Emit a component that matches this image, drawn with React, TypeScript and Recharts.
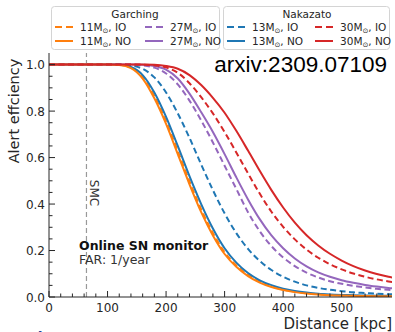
import { LineChart, Line, XAxis, YAxis, ReferenceLine } from 'recharts';

// distance grid [kpc]
const distance = [0, 20, 40, 60, 80, 100, 120, 140, 160, 180, 200, 220, 240, 260, 280, 300, 320, 340, 360, 380, 400, 420, 440, 460, 480, 500, 520, 540, 560, 580, 600];

// Garching
const g11IO = [1, 1, 1, 1, 1, 1, 0.999, 0.988, 0.946, 0.865, 0.757, 0.628, 0.498, 0.377, 0.275, 0.193, 0.136, 0.095, 0.066, 0.046, 0.032, 0.023, 0.016, 0.012, 0.009, 0.007, 0.0055, 0.0045, 0.004, 0.0035, 0.003];
const g11NO = [1, 1, 1, 1, 1, 1, 0.998, 0.985, 0.94, 0.855, 0.745, 0.615, 0.485, 0.365, 0.265, 0.185, 0.13, 0.09, 0.062, 0.043, 0.03, 0.021, 0.015, 0.011, 0.008, 0.006, 0.005, 0.004, 0.0035, 0.003, 0.0025];
const g27IO = [1, 1, 1, 1, 1, 1, 1, 1, 0.997, 0.987, 0.962, 0.915, 0.845, 0.76, 0.665, 0.565, 0.465, 0.365, 0.283, 0.219, 0.17, 0.133, 0.105, 0.084, 0.068, 0.057, 0.048, 0.041, 0.035, 0.031, 0.027];
const g27NO = [1, 1, 1, 1, 1, 1, 1, 1, 0.999, 0.994, 0.978, 0.94, 0.875, 0.795, 0.71, 0.615, 0.515, 0.42, 0.335, 0.265, 0.21, 0.166, 0.132, 0.106, 0.087, 0.072, 0.061, 0.052, 0.045, 0.039, 0.034];

// Nakazato
const n13IO = [1, 1, 1, 1, 1, 1, 1, 0.996, 0.982, 0.945, 0.88, 0.79, 0.685, 0.57, 0.46, 0.36, 0.275, 0.207, 0.155, 0.116, 0.087, 0.066, 0.05, 0.039, 0.031, 0.025, 0.02, 0.017, 0.014, 0.012, 0.011];
const n13NO = [1, 1, 1, 1, 1, 1, 0.999, 0.99, 0.955, 0.88, 0.775, 0.65, 0.52, 0.4, 0.295, 0.21, 0.148, 0.103, 0.072, 0.051, 0.036, 0.026, 0.019, 0.014, 0.011, 0.009, 0.0075, 0.0065, 0.0055, 0.005, 0.0045];
const n30IO = [1, 1, 1, 1, 1, 1, 1, 1, 1, 0.997, 0.988, 0.965, 0.92, 0.86, 0.79, 0.71, 0.622, 0.532, 0.445, 0.367, 0.302, 0.248, 0.204, 0.169, 0.141, 0.119, 0.101, 0.087, 0.076, 0.067, 0.06];
const n30NO = [1, 1, 1, 1, 1, 1, 1, 1, 1, 0.999, 0.994, 0.982, 0.955, 0.912, 0.857, 0.793, 0.715, 0.63, 0.543, 0.46, 0.385, 0.32, 0.266, 0.222, 0.186, 0.157, 0.133, 0.114, 0.099, 0.087, 0.077];

const xTicks = [0, 20, 40, 60, 80, 100, 120, 140, 160, 180, 200, 220, 240, 260, 280, 300, 320, 340, 360, 380, 400, 420, 440, 460, 480, 500, 520, 540, 560, 580];
const yTicks = [0, 0.05, 0.1, 0.15, 0.2, 0.25, 0.3, 0.35, 0.4, 0.45, 0.5, 0.55, 0.6, 0.65, 0.7, 0.75, 0.8, 0.85, 0.9, 0.95, 1.0];
const SMC = 64;

const data = distance.map((d, i) => ({
  d,
  g11IO: g11IO[i],
  g11NO: g11NO[i],
  g27IO: g27IO[i],
  g27NO: g27NO[i],
  n13IO: n13IO[i],
  n13NO: n13NO[i],
  n30IO: n30IO[i],
  n30NO: n30NO[i],
}));

const ORANGE = '#ff7f0e';
const PURPLE = '#9467bd';
const BLUE = '#1f77b4';
const RED = '#d62728';
const DASH = '6 3.5';
const FONT = '"DejaVu Sans", sans-serif';
const INK = '#262626';

const XTick = (props: any) => {
  const { x, y, payload } = props;
  const major = payload.value % 100 === 0;
  return (
    <g>
      <line x1={x} x2={x} y1={y} y2={y - (major ? 6 : 3.5)} stroke={INK} strokeWidth={1} />
      {major && (
        <text x={x} y={y + 15} textAnchor="middle" fontSize={12} fontFamily={FONT} fill={INK}>
          {payload.value}
        </text>
      )}
    </g>
  );
};

const YTick = (props: any) => {
  const { x, y, payload } = props;
  const v = payload.value;
  const major = Math.abs(v * 5 - Math.round(v * 5)) < 1e-6;
  return (
    <g>
      <line x1={x} x2={x + (major ? 6 : 3.5)} y1={y} y2={y} stroke={INK} strokeWidth={1} />
      {major && (
        <text x={x - 4} y={y + 4.5} textAnchor="end" fontSize={12} fontFamily={FONT} fill={INK}>
          {v.toFixed(1)}
        </text>
      )}
    </g>
  );
};

const legendItem = (x: number, y: number, color: string, dashed: boolean, mass: string, order: string) => (
  <g key={`${mass}${order}${color}`}>
    <line x1={x} x2={x + 18} y1={y} y2={y} stroke={color} strokeWidth={2} strokeDasharray={dashed ? '7 4' : undefined} />
    <text x={x + 25} y={y + 3.5} fontSize={10.5} fontFamily={FONT} fill={INK}>
      {mass}M
      <tspan fontSize={7} dy={2}>⊙</tspan>
      <tspan dy={-2}>, {order}</tspan>
    </text>
  </g>
);

export default function App() {
  return (
    <div style={{ position: 'absolute', left: 0, top: 0, width: 395, height: 332, overflow: 'hidden', background: '#fff' }}>
      <LineChart width={395} height={332} data={data} margin={{ top: 53, right: 3, left: 0, bottom: 0 }}>
        <XAxis
          dataKey="d"
          type="number"
          domain={[0, 586]}
          ticks={xTicks}
          interval={0}
          height={35}
          tickSize={0}
          tickMargin={0}
          tickLine={false}
          axisLine={{ stroke: INK }}
          tick={<XTick />}
          allowDataOverflow
        />
        <XAxis xAxisId="top" orientation="top" type="number" domain={[0, 586]} height={0} tick={false} tickLine={false} axisLine={{ stroke: INK }} />
        <YAxis
          type="number"
          domain={[0, 1.05]}
          ticks={yTicks}
          interval={0}
          width={49}
          tickSize={0}
          tickMargin={0}
          tickLine={false}
          axisLine={{ stroke: INK }}
          tick={<YTick />}
          allowDataOverflow
        />
        <YAxis yAxisId="right" orientation="right" type="number" domain={[0, 1.05]} width={0} tick={false} tickLine={false} axisLine={{ stroke: INK }} />
        <ReferenceLine x={SMC} stroke="#999" strokeWidth={1.2} strokeDasharray="5 3" />
        <Line dataKey="g11IO" type="monotone" stroke={ORANGE} strokeWidth={2} strokeDasharray={DASH} dot={false} isAnimationActive={false} />
        <Line dataKey="g27IO" type="monotone" stroke={PURPLE} strokeWidth={2} strokeDasharray={DASH} dot={false} isAnimationActive={false} />
        <Line dataKey="g27NO" type="monotone" stroke={PURPLE} strokeWidth={2} dot={false} isAnimationActive={false} />
        <Line dataKey="n13IO" type="monotone" stroke={BLUE} strokeWidth={2} strokeDasharray={DASH} dot={false} isAnimationActive={false} />
        <Line dataKey="n13NO" type="monotone" stroke={BLUE} strokeWidth={2} dot={false} isAnimationActive={false} />
        <Line dataKey="g11NO" type="monotone" stroke={ORANGE} strokeWidth={2} dot={false} isAnimationActive={false} />
        <Line dataKey="n30IO" type="monotone" stroke={RED} strokeWidth={2} strokeDasharray={DASH} dot={false} isAnimationActive={false} />
        <Line dataKey="n30NO" type="monotone" stroke={RED} strokeWidth={2} dot={false} isAnimationActive={false} />
      </LineChart>

      <svg width={395} height={332} style={{ position: 'absolute', left: 0, top: 0, pointerEvents: 'none' }}>
        {/* legends */}
        <rect x={51.5} y={6.5} width={168} height={43} rx={3} fill="#fff" fillOpacity={0.85} stroke="#d4d4d4" />
        <text x={135} y={17.5} textAnchor="middle" fontSize={10.5} fontFamily={FONT} fill={INK}>Garching</text>
        {legendItem(55, 27, ORANGE, true, '11', 'IO')}
        {legendItem(55, 41, ORANGE, false, '11', 'NO')}
        {legendItem(145, 27, PURPLE, true, '27', 'IO')}
        {legendItem(145, 41, PURPLE, false, '27', 'NO')}

        <rect x={223.5} y={6.5} width={166} height={43} rx={3} fill="#fff" fillOpacity={0.85} stroke="#d4d4d4" />
        <text x={307} y={17.5} textAnchor="middle" fontSize={10.5} fontFamily={FONT} fill={INK}>Nakazato</text>
        {legendItem(227, 27, BLUE, true, '13', 'IO')}
        {legendItem(227, 41, BLUE, false, '13', 'NO')}
        {legendItem(315, 27, RED, true, '30', 'IO')}
        {legendItem(315, 41, RED, false, '30', 'NO')}

        {/* axis labels */}
        <text x={19} y={111} transform="rotate(-90, 19, 111)" textAnchor="middle" fontSize={14.5} fontFamily={FONT} fill={INK}>
          Alert effciency
        </text>
        <text x={392} y={329} textAnchor="end" fontSize={15} fontFamily={FONT} fill={INK}>
          Distance [kpc]
        </text>

        {/* annotations */}
        <text x={387} y={72} textAnchor="end" fontSize={22.5} fontFamily='"Liberation Sans", Arial, sans-serif' fill="#000">
          arxiv:2309.07109
        </text>
        <text transform="translate(90, 193) rotate(90)" textAnchor="middle" fontSize={12} fontFamily={FONT} fill="#333">
          SMC
        </text>
        <text x={79} y={250} fontSize={12.5} fontWeight="bold" fontFamily={FONT} fill="#111">
          Online SN monitor
        </text>
        <text x={79} y={264} fontSize={12.5} fontFamily={FONT} fill="#333">
          FAR: 1/year
        </text>

        {/* cropped caption below the figure */}
        <text x={-7} y={342} fontSize={14} fontWeight="bold" fontFamily={FONT} fill="#1f3f99">
          Neutrino
        </text>
      </svg>
    </div>
  );
}
